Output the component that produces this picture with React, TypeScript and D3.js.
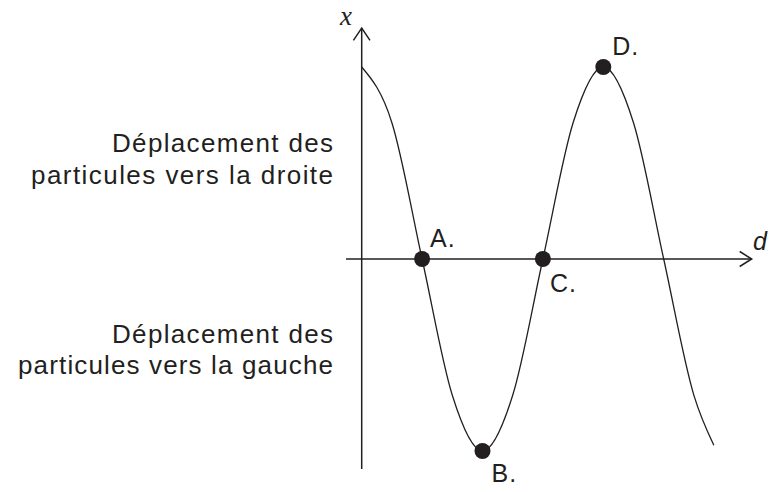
import React from "react";
import * as d3 from "d3";

// positions along d, in quarter-wavelength units
const dValues = [0, 0.5, 1, 1.5, 2, 2.5, 3, 3.5, 4, 4.5, 5, 5.5, 5.83];
// displacement x (normalised amplitude)
const xValues = [1, 0.71, 0, -0.71, -1, -0.71, 0, 0.71, 1, 0.71, 0, -0.71, -0.97];

const pointNames = ["A.", "B.", "C.", "D."];
const pointD = [1, 2, 3, 4];
const pointX = [0, -1, 0, 1];

const upperLabel = ["Déplacement des", "particules vers la droite"];
const lowerLabel = ["Déplacement des", "particules vers la gauche"];

const W = 769;
const H = 492;
const INK = "#231f20";
const FONT = "'Liberation Sans', Arial, Helvetica, sans-serif";

export default function App() {
  const xs = d3.scaleLinear().domain([0, 4]).range([361.7, 603.3]);
  const ys = d3.scaleLinear().domain([-1, 1]).range([451, 67]);

  const data = dValues.map((d, i) => [d, xValues[i]] as [number, number]);
  const line = d3
    .line<[number, number]>()
    .x((p) => xs(p[0]))
    .y((p) => ys(p[1]))
    .curve(d3.curveMonotoneX);

  const x0 = xs(0);
  const y0 = ys(0);
  const axisLeft = xs(-0.26);
  const axisRight = 751.7;
  const axisTop = 28;
  const axisBottom = 469;

  // label offsets relative to the dot
  const labelOffsets: [number, number][] = [
    [8, -12.5],
    [9, 30.5],
    [7, 33],
    [9, -12],
  ];

  const upperWidths = [221, 302];
  const lowerWidths = [221, 315];
  const upperBase = [152, 184];
  const lowerBase = [343, 374];

  return (
    <svg
      width={W}
      height={H}
      style={{ position: "absolute", left: 0, top: 0, background: "#fff" }}
      fontFamily={FONT}
    >
      {/* axes */}
      <line x1={axisLeft} y1={y0} x2={axisRight} y2={y0} stroke={INK} strokeWidth={1.5} />
      <polyline
        points={`${axisRight - 12},${y0 - 7.5} ${axisRight},${y0} ${axisRight - 12},${y0 + 7.5}`}
        fill="none"
        stroke={INK}
        strokeWidth={1.5}
      />
      <line x1={x0} y1={axisBottom} x2={x0} y2={axisTop} stroke={INK} strokeWidth={1.5} />
      <polyline
        points={`${x0 - 8.3},${axisTop + 12.3} ${x0},${axisTop} ${x0 + 8.3},${axisTop + 12.3}`}
        fill="none"
        stroke={INK}
        strokeWidth={1.5}
      />
      <text
        x={346}
        y={25}
        fontFamily="'Liberation Serif', 'DejaVu Serif', serif"
        fontStyle="italic"
        fontSize={27}
        fill={INK}
        textAnchor="middle"
      >
        x
      </text>
      <text x={753} y={250} fontStyle="italic" fontSize={25} fill={INK}>
        d
      </text>

      {/* wave */}
      <path d={line(data) || ""} fill="none" stroke={INK} strokeWidth={1.3} />

      {/* points */}
      {pointNames.map((name, i) => {
        const cx = xs(pointD[i]);
        const cy = ys(pointX[i]);
        return (
          <g key={name}>
            <circle cx={cx} cy={cy} r={8} fill={INK} />
            <text
              x={cx + labelOffsets[i][0]}
              y={cy + labelOffsets[i][1]}
              fontSize={25}
              letterSpacing={1}
              fill={INK}
            >
              {name}
            </text>
          </g>
        );
      })}

      {/* side labels */}
      {upperLabel.map((t, i) => (
        <text
          key={"u" + i}
          x={333 - upperWidths[i]}
          y={upperBase[i]}
          fontSize={26}
          fill={INK}
          textLength={upperWidths[i]}
          lengthAdjust="spacing"
        >
          {t}
        </text>
      ))}
      {lowerLabel.map((t, i) => (
        <text
          key={"l" + i}
          x={333 - lowerWidths[i]}
          y={lowerBase[i]}
          fontSize={26}
          fill={INK}
          textLength={lowerWidths[i]}
          lengthAdjust="spacing"
        >
          {t}
        </text>
      ))}
    </svg>
  );
}
